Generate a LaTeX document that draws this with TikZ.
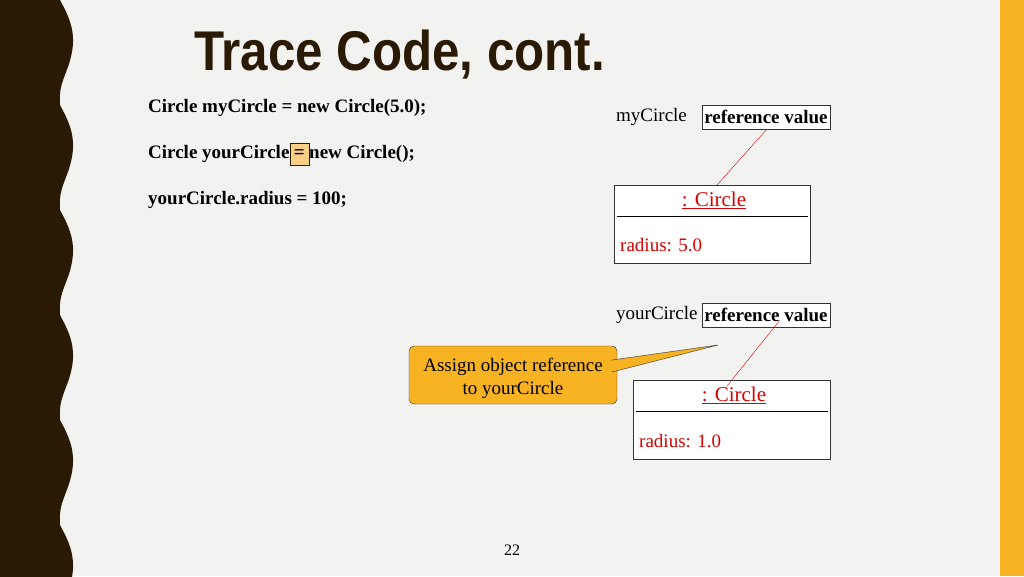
\documentclass[tikz,border=0pt]{standalone}
\usepackage{fontspec}
\setmainfont{Liberation Serif}
\newfontfamily\titlefont{Liberation Sans}
\definecolor{bg}{HTML}{F2F2F0}
\definecolor{dark}{HTML}{2B1A03}
\definecolor{orng}{HTML}{F8B323}
\definecolor{hl}{HTML}{F9CF86}
\tikzset{
 code/.style={anchor=west,inner sep=0pt,font=\fontsize{19}{22}\selectfont\bfseries},
 refbox/.style={draw=black!80,fill=white,inner sep=1pt,minimum height=24pt,font=\fontsize{19}{22}\selectfont\bfseries},
 objbox/.style={draw=black!80,fill=white,thick},
 red/.style={text=red!85!black,font=\fontsize{21}{24}\selectfont},
 lbl/.style={font=\fontsize{19}{22}\selectfont,anchor=west,inner sep=0pt}
}
\begin{document}
\begin{tikzpicture}[x=1pt,y=-1pt]
\useasboundingbox (0,0) rectangle (1024,576);
\fill[bg] (0,0) rectangle (1024,576);
\fill[orng] (1000,0) rectangle (1024,576);
\fill[dark] (0,0) -- (60,0)
 \foreach \k in {0,...,5} { .. controls (68,{\k*105+15}) and (76,{\k*105+30}) .. (72,{\k*105+52})
 .. controls (68,{\k*105+74}) and (58,{\k*105+82}) .. (60,{\k*105+105}) } -- (60,580) -- (0,580) -- cycle;
\node[anchor=west,inner sep=0pt,text=dark] (title) at (194,55) {\titlefont\bfseries\scalebox{0.88}[1]{\fontsize{56}{60}\selectfont Trace Code, cont.}};
\node[code] (c1) at (148,108) {Circle myCircle = new Circle(5.0);};
\node[code] (c2a) at (148,154) {Circle yourCircle};
\node[draw=dark,fill=hl,inner sep=0pt,minimum height=22pt,minimum width=19pt,anchor=west,font=\fontsize{19}{22}\selectfont\bfseries] (eq) at (c2a.east) {=};
\node[code] (c2b) at (eq.east) {new Circle();};
\node[code] (c3) at (148,200) {yourCircle.radius = 100;};
% myCircle
\node[lbl] (mylbl) at (616,117) {myCircle};
\node[refbox,minimum width=128pt] (ref1) at (766,117) {reference value};
\node[objbox,minimum width=196pt,minimum height=78pt] (obj1) at (712,224) {};
\draw[thick] (617,216) -- (808,216);
\node[red] (n1) at (714,200) {\underline{: Circle}};
\node[lbl,text=red!85!black] (r1) at (620,245) {radius: 5.0};
\draw[red!85!black] (767,129) -- (717,185);
% yourCircle
\node[lbl] (yourlbl) at (616,315) {yourCircle};
\node[refbox,minimum width=128pt] (ref2) at (766,315) {reference value};
\node[objbox,minimum width=197pt,minimum height=79pt] (obj2) at (731.5,419.5) {};
\draw[thick] (636,411) -- (828,411);
\node[red] (n2) at (734,395) {\underline{: Circle}};
\node[lbl,text=red!85!black] (r2) at (639,441) {radius: 1.0};
\draw[red!85!black] (780,320) -- (727,386);
% callout
\node[draw=black!80,fill=orng,rounded corners=5pt,minimum width=208pt,minimum height=58pt,font=\fontsize{19}{23}\selectfont] (call) at (513,375) {};
\node[align=center,font=\fontsize{19}{23}\selectfont] (calltxt) at (513,378) {Assign object reference\\to yourCircle};
\fill[orng,draw=black!80] (612,360) -- (718,345) -- (612,372) -- cycle;
\fill[orng] (609,361) rectangle (616,371);
\node[font=\fontsize{16}{18}\selectfont] (pg) at (512,550) {22};
\end{tikzpicture}
\end{document}
